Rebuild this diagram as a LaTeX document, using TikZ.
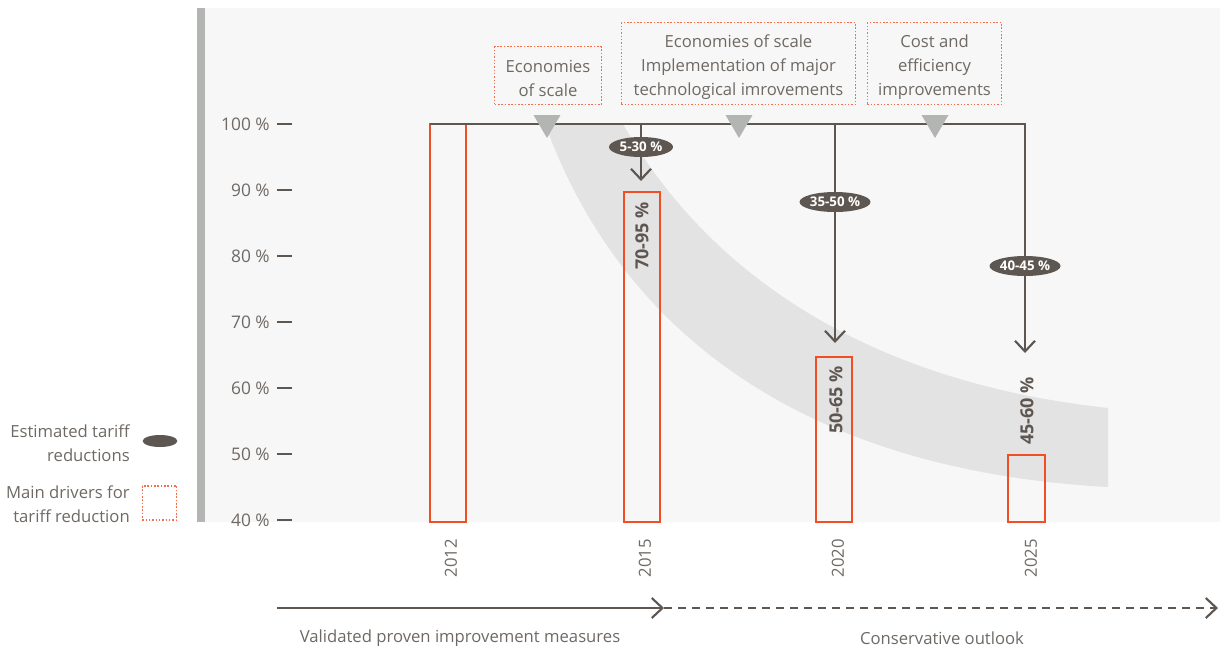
\documentclass[tikz,border=0pt]{standalone}
\usepackage{fontspec}
\setmainfont{Open Sans}
\usetikzlibrary{arrows.meta,positioning,shapes.geometric}
\definecolor{chartline}{HTML}{5E5650}
\definecolor{charttext}{HTML}{6E6964}
\definecolor{chartred}{HTML}{F04E23}
\definecolor{chartdot}{HTML}{F36F4E}
\definecolor{chartmark}{HTML}{B3B5B2}
\definecolor{chartband}{HTML}{E3E3E3}
\definecolor{chartpanel}{HTML}{F7F7F7}

\begin{document}
\begin{tikzpicture}[x=0.75pt, y=-0.75pt,
  every node/.style={font=\fontsize{12.5}{18}\selectfont, text=charttext, align=center, inner sep=0pt},
  driverbox/.style={draw=chartdot, line width=0.8pt, dash pattern=on 1.2pt off 1.3pt},
  cut/.style={ellipse, fill=chartline, text=white, font=\fontsize{10}{11}\selectfont\bfseries, minimum width=48pt, minimum height=15pt},
  bar/.style={draw=chartred, line width=1.8pt},
  share/.style={rotate=90, text=chartline, font=\fontsize{13.5}{15}\selectfont\bfseries},
  flow/.style={draw=chartline, line width=1.8pt},
  drop/.style={flow, -{Straight Barb[length=8pt, width=15pt, line width=1.6pt]}}
]
  \useasboundingbox (0,0) rectangle (1220,651);

  % panel and axis
  \fill[chartpanel] (205,8) rectangle (1220,522);
  \fill[chartmark] (197,8) rectangle (205,522);
  \foreach \v [count=\i from 0] in {100,90,80,70,60,50,40} {
    \node[anchor=east, font=\fontsize{13}{15}\selectfont] (y\v) at (270,124+66*\i) {\v~\%};
    \draw[flow] (277,124+66*\i) -- (292,124+66*\i);
  }

  % trend band
  \fill[chartband] (545,124) .. controls (620,330) and (800,470) .. (1108,487)
    -- (1108,408) .. controls (850,380) and (700,260) .. (623,124) -- cycle;

  % bars
  \draw[bar] (430,124) rectangle (466,522);
  \draw[bar] (624,192) rectangle (660,522);
  \draw[bar] (816,357) rectangle (852,522);
  \draw[bar] (1008,455) rectangle (1045,522);
  \node[share] (s15) at (642,236) {70-95 \%};
  \node[share] (s20) at (836,400) {50-65 \%};
  \node[share] (s25) at (1027,411) {45-60 \%};

  % reductions
  \coordinate (t12) at (430,124);
  \coordinate (t15) at (641,124);
  \coordinate (t20) at (835,124);
  \coordinate (t25) at (1025,124);
  \coordinate (a15) at (641,181);
  \coordinate (a20) at (835,343);
  \coordinate (a25) at (1025,353);
  \node[cut] (r15) at (641,147) {5-30 \%};
  \node[cut] (r20) at (835,202) {35-50 \%};
  \node[cut] (r25) at (1025,266) {40-45 \%};
  \draw[flow] (t12) -- (t25) -- (r25);
  \draw[flow] (t15) -- (r15);
  \draw[flow] (t20) -- (r20);
  \draw[drop] (r15) -- (a15);
  \draw[drop] (r20) -- (a20);
  \draw[drop] (r25) -- (a25);
  \foreach \x in {547,739,935}
    \fill[chartmark] (\x-13.5,115) -- (\x+13.5,115) -- (\x,138) -- cycle;

  % drivers
  \node[driverbox, minimum width=80pt, minimum height=43pt] (d1) at (548,75.5) {};
  \node[driverbox, minimum width=176pt, minimum height=61pt] (d2) at (738.5,63.5) {};
  \node[driverbox, minimum width=101pt, minimum height=61pt] (d3) at (934.5,63.5) {};
  \node (d1t) at ([yshift=-2pt]d1.center) {Economies\\of scale};
  \node (d2t) at ([yshift=-3pt]d2.center) {Economies of scale\\Implementation of major\\technological imrovements};
  \node (d3t) at ([yshift=-3pt]d3.center) {Cost and\\efficiency\\improvements};

  % legend
  \node[anchor=east, align=right] (l1) at (130,443.5) {Estimated tariff\\reductions};
  \node[ellipse, fill=chartline, minimum width=26pt, minimum height=9pt] (k1) at (160,441) {};
  \node[anchor=east, align=right] (l2) at (130,504) {Main drivers for\\tariff reduction};
  \node[driverbox, minimum width=26pt, minimum height=25.5pt] (k2) at (159.5,503) {};

  % years
  \foreach \yr/\x in {2012/451,2015/645,2020/838,2025/1031}
    \node[rotate=90, font=\fontsize{12.5}{14}\selectfont] (yr\yr) at (\x,558) {\yr};

  % time line
  \coordinate (p0) at (277,608);
  \coordinate (p1) at (664,608);
  \coordinate (p2) at (1218,608);
  \draw[flow, -{Straight Barb[length=8pt, width=15pt, line width=1.6pt]}] (p0) -- (p1);
  \draw[flow, dash pattern=on 6pt off 4.5pt, -{Straight Barb[length=8pt, width=15pt, line width=1.6pt]}] (p1) -- (p2);
  \node[font=\fontsize{12.5}{14}\selectfont] (v1) at (460,638) {Validated proven improvement measures};
  \node[font=\fontsize{12.5}{14}\selectfont] (v2) at (942,638) {Conservative outlook};
\end{tikzpicture}
\end{document}
